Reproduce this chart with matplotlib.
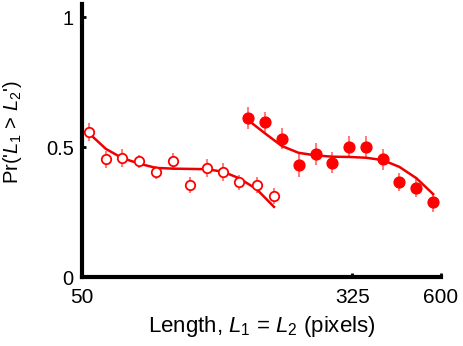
import matplotlib
matplotlib.use("Agg")
import matplotlib.pyplot as plt

plt.rcParams["font.family"] = ["Liberation Sans", "DejaVu Sans"]
plt.rcParams["mathtext.fontset"] = "custom"
plt.rcParams["mathtext.rm"] = "Liberation Sans"
plt.rcParams["mathtext.it"] = "Liberation Sans:italic"

# Data: short lengths (open circles)
open_x = [52.4, 59, 66, 74.4, 83.5, 93.7, 105.6, 118.5, 132.9, 148.5, 167.6, 189]
open_y = [0.558, 0.453, 0.458, 0.445, 0.404, 0.445, 0.354, 0.418, 0.405, 0.364, 0.354, 0.312]
open_err = [0.035, 0.032, 0.034, 0.025, 0.025, 0.034, 0.03, 0.035, 0.035, 0.03, 0.03, 0.03]
open_fit = [0.554, 0.493, 0.458, 0.436, 0.420, 0.417, 0.416, 0.415, 0.405, 0.380, 0.338, 0.270]

# Data: long lengths (filled circles)
filled_x = [157.8, 177.5, 199.6, 224, 252, 283, 318, 357, 401, 450, 507, 569]
filled_y = [0.613, 0.595, 0.533, 0.430, 0.472, 0.440, 0.501, 0.501, 0.453, 0.367, 0.343, 0.287]
filled_err = [0.043, 0.04, 0.04, 0.045, 0.042, 0.04, 0.043, 0.043, 0.04, 0.035, 0.035, 0.035]
filled_fit = [0.604, 0.553, 0.504, 0.478, 0.468, 0.463, 0.462, 0.459, 0.450, 0.424, 0.380, 0.319]

x_ticks = [50, 325, 600]
y_ticks = [0, 0.5, 1]

fig = plt.figure(figsize=(4.64, 3.46), dpi=100)
ax = fig.add_axes([0.1767, 0.1994, 0.7733, 0.7886])

err_col = (1, 0, 0, 0.5)
ax.errorbar(open_x, open_y, yerr=open_err, fmt="none", ecolor=err_col, elinewidth=1.5, zorder=1)
ax.errorbar(filled_x, filled_y, yerr=filled_err, fmt="none", ecolor=err_col, elinewidth=1.5, zorder=1)

ax.plot(open_x, open_fit, color="#ee0000", linewidth=1.8, zorder=2)
ax.plot(filled_x, filled_fit, color="#ee0000", linewidth=1.8, zorder=2)

ax.plot(open_x, open_y, "o", mfc="white", mec="red", mew=1.3, ms=6.8, zorder=3)
ax.plot(filled_x, filled_y, "o", color="red", ms=7.8, zorder=3)

ax.set_xscale("log")
ax.set_xlim(50, 600)
ax.set_ylim(0, 1.05)
ax.set_xticks(x_ticks)
ax.set_xticklabels([str(t) for t in x_ticks])
ax.xaxis.set_minor_locator(matplotlib.ticker.NullLocator())
ax.set_yticks(y_ticks)
ax.set_yticklabels(["0", "0.5", "1"])

for s in ["top", "right"]:
    ax.spines[s].set_visible(False)
for s in ["left", "bottom"]:
    ax.spines[s].set_linewidth(3)

ax.tick_params(direction="in", length=3, width=2)
ax.tick_params(axis="x", labelsize=15, pad=8)
ax.tick_params(axis="y", labelsize=14.5, pad=6)

ax.set_xlabel("Length, $L_1$ = $L_2$ (pixels)", fontsize=16, labelpad=5)
ax.set_ylabel("Pr('$L_1$ > $L_2$')", fontsize=14.5)
ax.yaxis.set_label_coords(-0.163, 0.53)

plt.savefig("out.png", dpi=100)
